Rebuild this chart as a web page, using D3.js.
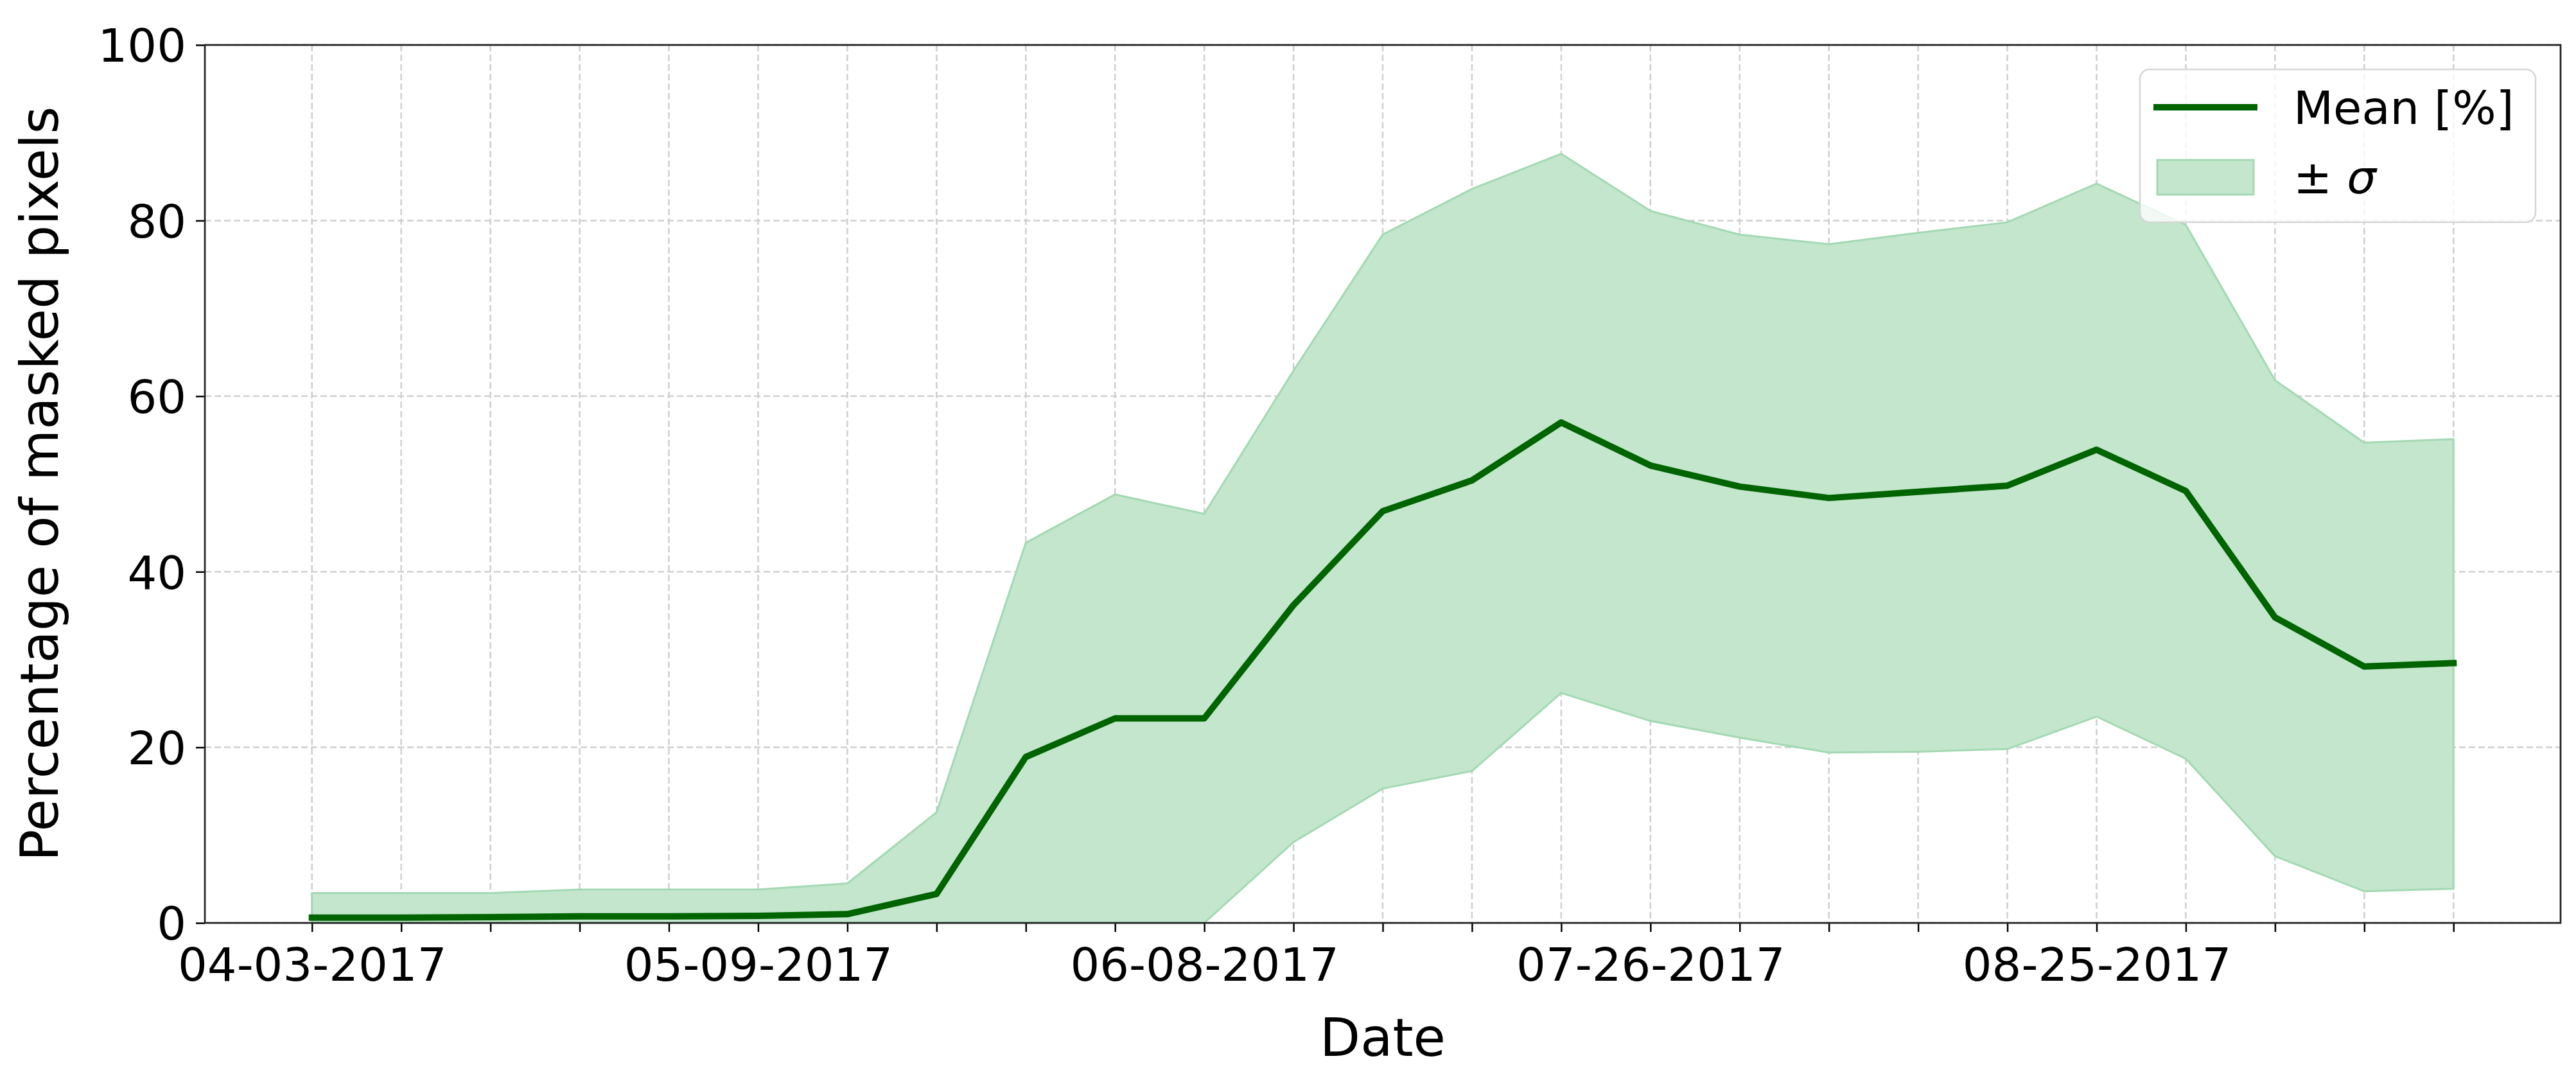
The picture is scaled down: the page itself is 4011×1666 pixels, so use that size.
<!DOCTYPE html>
<html>
<head>
<meta charset="utf-8">
<script src="https://cdn.jsdelivr.net/npm/d3@7"></script>
<style>
  body { margin: 0; background: #fff; }
  text { font-family: "DejaVu Sans", sans-serif; fill: #000; }
</style>
</head>
<body>
<svg id="chart" width="4011" height="1666"></svg>
<script>
// observation index along the x axis (one per acquisition date)
var obsIndex = d3.range(25);

// dates shown as tick labels (every 5th acquisition)
var tickIndex = [0, 5, 10, 15, 20];
var tickLabels = ["04-03-2017", "05-09-2017", "06-08-2017", "07-26-2017", "08-25-2017"];

// mean percentage of masked pixels
var meanPct = [0.6, 0.6, 0.65, 0.75, 0.75, 0.8, 1.0, 3.3, 18.9, 23.3, 23.3, 36.2, 46.9,
	50.4, 57.0, 52.1, 49.7, 48.4, 49.1, 49.8, 53.9, 49.2, 34.8, 29.2, 29.6];

// band: mean + sigma / mean - sigma (clipped at 0)
var upperPct = [3.4, 3.4, 3.4, 3.8, 3.8, 3.8, 4.5, 12.6, 43.3, 48.8, 46.6, 62.9, 78.4,
	83.6, 87.6, 81.1, 78.4, 77.3, 78.6, 79.8, 84.2, 79.5, 61.8, 54.7, 55.1];
var lowerPct = [0, 0, 0, 0, 0, 0, 0, 0, 0, 0, 0, 9.2, 15.3,
	17.3, 26.2, 23.0, 21.1, 19.4, 19.5, 19.8, 23.5, 18.7, 7.6, 3.6, 3.9];

var yTicks = [0, 20, 40, 60, 80, 100];

(function () {
	var svg = d3.select("#chart");
	var W = 4011, H = 1666;
	var left = 319, right = 3987, top = 70, bottom = 1437;

	svg.append("rect").attr("width", W).attr("height", H).attr("fill", "#fff");

	// matplotlib-like 5% margins on x
	var x = d3.scaleLinear().domain([-1.2, 25.2]).range([left, right]);
	var y = d3.scaleLinear().domain([0, 100]).range([bottom, top]);

	var grid = svg.append("g").attr("class", "grid");
	grid.selectAll("line.v").data(obsIndex).enter().append("line")
		.attr("x1", function (d) { return x(d); })
		.attr("x2", function (d) { return x(d); })
		.attr("y1", top).attr("y2", bottom)
		.attr("stroke", "#cfcfcf").attr("stroke-width", 2.5)
		.attr("stroke-dasharray", "10,5");
	grid.selectAll("line.h").data(yTicks).enter().append("line")
		.attr("x1", left).attr("x2", right)
		.attr("y1", function (d) { return y(d); })
		.attr("y2", function (d) { return y(d); })
		.attr("stroke", "#cfcfcf").attr("stroke-width", 2.5)
		.attr("stroke-dasharray", "10,5");

	// +/- sigma band
	var area = d3.area()
		.x(function (d) { return x(d); })
		.y0(function (d) { return y(lowerPct[d]); })
		.y1(function (d) { return y(upperPct[d]); });
	svg.append("path").datum(obsIndex)
		.attr("d", area)
		.attr("fill", "#c3e6cc")
		.attr("stroke", "#a3d9b3")
		.attr("stroke-width", 3);

	// mean line
	var line = d3.line()
		.x(function (d) { return x(d); })
		.y(function (d) { return y(meanPct[d]); });
	svg.append("path").datum(obsIndex)
		.attr("d", line)
		.attr("fill", "none")
		.attr("stroke", "#006400")
		.attr("stroke-width", 10)
		.attr("stroke-linejoin", "round")
		.attr("stroke-linecap", "square");

	// axes
	var xAxis = d3.axisBottom(x)
		.tickValues(obsIndex)
		.tickSize(14)
		.tickFormat(function (d) {
			var k = tickIndex.indexOf(d);
			return k >= 0 ? tickLabels[k] : "";
		});
	var gx = svg.append("g").attr("transform", "translate(0," + bottom + ")").call(xAxis);
	gx.select(".domain").remove();
	gx.selectAll(".tick line").attr("stroke", "#000").attr("stroke-width", 2.5);
	gx.selectAll(".tick text").attr("y", 90).attr("dy", 0)
		.style("font-size", "72px").style("font-family", "DejaVu Sans");

	var yAxis = d3.axisLeft(y).tickValues(yTicks).tickSize(14).tickPadding(15);
	var gy = svg.append("g").attr("transform", "translate(" + left + ",0)").call(yAxis);
	gy.select(".domain").remove();
	gy.selectAll(".tick line").attr("stroke", "#000").attr("stroke-width", 2.5);
	gy.selectAll(".tick text").attr("dy", "0.36em")
		.style("font-size", "72px").style("font-family", "DejaVu Sans");

	// spines
	svg.append("rect")
		.attr("x", left).attr("y", top)
		.attr("width", right - left).attr("height", bottom - top)
		.attr("fill", "none").attr("stroke", "#222").attr("stroke-width", 2.7);

	// axis labels
	svg.append("text")
		.attr("x", (left + right) / 2).attr("y", 1644)
		.attr("text-anchor", "middle")
		.style("font-size", "82px")
		.text("Date");
	svg.append("text")
		.attr("transform", "translate(90," + (top + bottom) / 2 + ") rotate(-90)")
		.attr("text-anchor", "middle")
		.style("font-size", "82px")
		.text("Percentage of masked pixels");

	// legend
	var lg = svg.append("g");
	lg.append("rect")
		.attr("x", 3332).attr("y", 108)
		.attr("width", 616).attr("height", 238)
		.attr("rx", 15).attr("ry", 15)
		.attr("fill", "#fff").attr("fill-opacity", 0.8)
		.attr("stroke", "#d6d6d6").attr("stroke-width", 2.5);
	lg.append("line")
		.attr("x1", 3358).attr("x2", 3510)
		.attr("y1", 167).attr("y2", 167)
		.attr("stroke", "#006400").attr("stroke-width", 10)
		.attr("stroke-linecap", "square");
	lg.append("rect")
		.attr("x", 3359).attr("y", 249)
		.attr("width", 150).attr("height", 54)
		.attr("fill", "#c3e6cc").attr("stroke", "#a3d9b3").attr("stroke-width", 3);
	lg.append("text")
		.attr("x", 3571).attr("y", 193)
		.style("font-size", "72px")
		.text("Mean [%]");
	var sig = lg.append("text")
		.attr("x", 3571).attr("y", 301)
		.style("font-size", "72px");
	sig.append("tspan").text("\u00B1 ");
	sig.append("tspan").style("font-style", "italic").text("\u03C3");
})();
</script>
</body>
</html>
